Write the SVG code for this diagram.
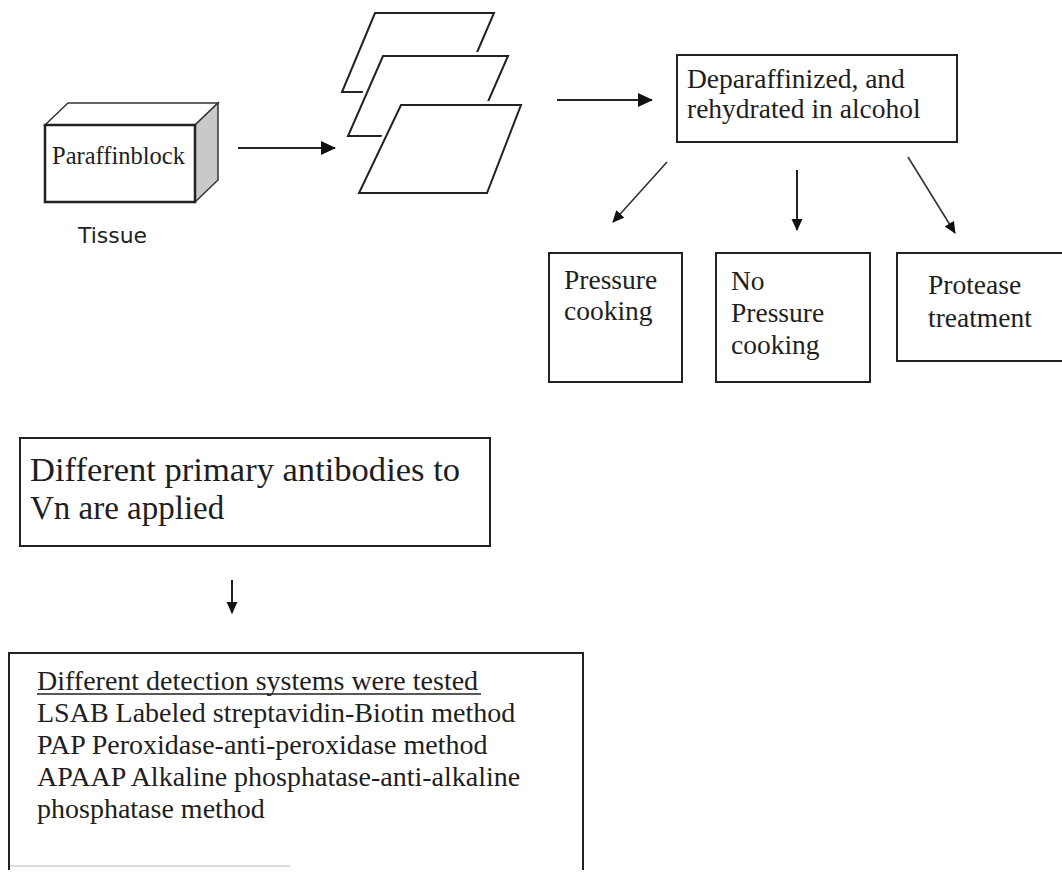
<svg xmlns="http://www.w3.org/2000/svg" width="1062" height="872" viewBox="0 0 1062 872">
<defs>
<style>
.box{fill:#fff;stroke:#222;stroke-width:2}
.t{font-family:"Liberation Serif","Times New Roman",serif;fill:#1e1e1e}
.ln{stroke:#222;stroke-width:2;fill:none}
.dg{stroke:#333;stroke-width:1.6;fill:none}
.halo{fill:#fff;stroke:#fff;stroke-width:8;stroke-linejoin:round}
.slide{fill:none;stroke:#222;stroke-width:2;stroke-linejoin:miter}
</style>
<marker id="ah" markerUnits="userSpaceOnUse" markerWidth="16" markerHeight="14" refX="14" refY="7" orient="auto">
<path d="M0,0 L15,7 L0,14 Z" fill="#111"/>
</marker>
<marker id="ahs" markerUnits="userSpaceOnUse" markerWidth="12" markerHeight="12" refX="11" refY="6" orient="auto">
<path d="M0,0.5 L12,6 L0,11.5 Z" fill="#111"/>
</marker>
</defs>
<rect width="1062" height="872" fill="#fff"/>

<g id="paraffin-block">
<polygon points="45,125 68,103 218,103 195,125" fill="#fff" stroke="#333" stroke-width="1.5"/>
<polygon points="195,125 218,103 218,180 195,202" fill="#c9c9c9" stroke="#333" stroke-width="1.5"/>
<rect x="45" y="125" width="150" height="77" fill="#fff" stroke="#222" stroke-width="2.5"/>
<text class="t" x="52" y="164" font-size="25" textLength="133" lengthAdjust="spacingAndGlyphs">Paraffinblock</text>
</g>
<g id="tissue-label">
<text x="78" y="243" font-family="DejaVu Sans, Verdana, sans-serif" font-size="22" fill="#222" textLength="69" lengthAdjust="spacingAndGlyphs">Tissue</text>
</g>

<g id="slides">
<polygon class="halo" points="375,13 494,13 460,92 342,92"/>
<polygon class="slide" points="375,13 494,13 460,92 342,92"/>
<polygon class="halo" points="383,56 508,56 473,136 348,136"/>
<polygon class="slide" points="383,56 508,56 473,136 348,136"/>
<polygon class="halo" points="401,105 521,105 487,193 359,193"/>
<polygon class="slide" points="401,105 521,105 487,193 359,193"/>
</g>

<g id="deparaffinized">
<rect class="box" x="677" y="55" width="280" height="87"/>
<text class="t" font-size="27.5"><tspan x="687" y="88">Deparaffinized, and</tspan><tspan x="687" y="118">rehydrated in alcohol</tspan></text>
</g>

<g id="pressure-cooking">
<rect class="box" x="549" y="253" width="133" height="129"/>
<text class="t" font-size="27.5"><tspan x="564" y="289">Pressure</tspan><tspan x="564" y="320">cooking</tspan></text>
</g>

<g id="no-pressure-cooking">
<rect class="box" x="716" y="253" width="154" height="129"/>
<text class="t" font-size="27.5"><tspan x="731" y="290">No</tspan><tspan x="731" y="322">Pressure</tspan><tspan x="731" y="354">cooking</tspan></text>
</g>

<g id="protease-treatment">
<rect class="box" x="897" y="253" width="180" height="108"/>
<text class="t" font-size="27.5"><tspan x="928" y="294">Protease</tspan><tspan x="928" y="327">treatment</tspan></text>
</g>

<g id="primary-antibodies">
<rect class="box" x="20" y="438" width="470" height="108"/>
<text class="t" font-size="33" x="30" y="481" textLength="430" lengthAdjust="spacingAndGlyphs">Different primary antibodies to</text>
<text class="t" font-size="33" x="30" y="519">Vn are applied</text>
</g>

<g id="detection-systems">
<path d="M9,870 V653 H583 V870" fill="none" stroke="#222" stroke-width="2"/>
<line x1="10" y1="866" x2="290" y2="866" stroke="#d0d0d0" stroke-width="1.5"/>
<text class="t" font-size="28"><tspan x="37" y="690">Different detection systems were tested</tspan><tspan x="37" y="722">LSAB Labeled streptavidin-Biotin method</tspan><tspan x="37" y="754">PAP Peroxidase-anti-peroxidase method</tspan><tspan x="37" y="786">APAAP Alkaline phosphatase-anti-alkaline</tspan><tspan x="37" y="818">phosphatase method</tspan></text>
<line x1="37" y1="694" x2="481" y2="694" stroke="#222" stroke-width="1.5"/>
</g>

<g id="connectors">
<line class="ln" x1="238" y1="148" x2="335" y2="148" marker-end="url(#ah)"/>
<line class="ln" x1="557" y1="100" x2="652" y2="100" marker-end="url(#ah)"/>
<line class="dg" x1="667" y1="162" x2="613" y2="222" marker-end="url(#ahs)"/>
<line class="ln" x1="797" y1="170" x2="797" y2="230" marker-end="url(#ahs)"/>
<line class="dg" x1="908" y1="157" x2="955" y2="233" marker-end="url(#ahs)"/>
<line class="ln" x1="232" y1="580" x2="232" y2="613" marker-end="url(#ahs)"/>
</g>
</svg>
